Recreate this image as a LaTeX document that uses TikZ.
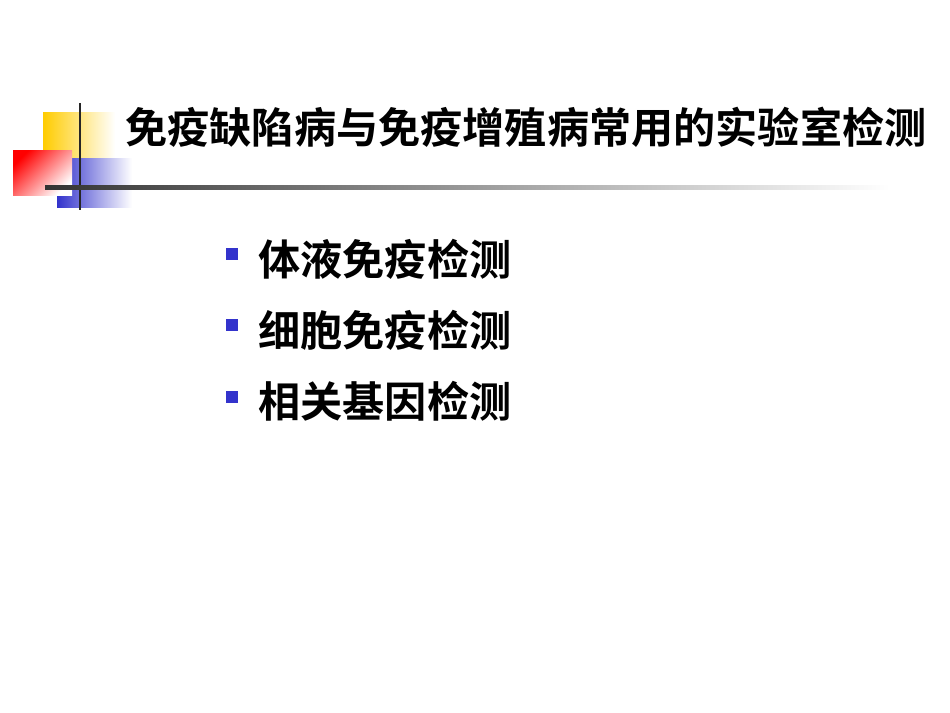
\documentclass[tikz,border=0pt]{standalone}
\usepackage{fontspec}
\newfontfamily\cjk{Noto Sans CJK SC Bold}
\definecolor{yel}{RGB}{255,204,0}
\definecolor{blu}{RGB}{51,51,204}
\begin{document}
\begin{tikzpicture}[x=0.02cm,y=-0.02cm,
  txt/.style={font=\cjk\fontsize{24}{28}\selectfont,anchor=west,inner sep=0},
  bul/.style={fill=blu,minimum size=0.24cm,inner sep=0}]
\useasboundingbox (0,0) rectangle (950,713);
\fill[left color=yel,middle color=yel!85!white,right color=white] (43,113) rectangle (115,158);
\fill[left color=blu,middle color=blu!80!white,right color=white] (57,158) rectangle (132,207);
\shade[top color=red,bottom color=white,shading angle=45] (13,150) rectangle (72,195);
\draw[line width=1.2pt,black!85] (80,103) -- (80,210);
\shade[left color=black!80,right color=white] (45,185.5) rectangle (890,189);
\node[txt] (title) at (125,127) {免疫缺陷病与免疫增殖病常用的实验室检测};
\node[bul] (b1) at (232,254) {};
\node[bul] (b2) at (232,325) {};
\node[bul] (b3) at (232,397) {};
\node[txt] (t1) at (258,259) {体液免疫检测};
\node[txt] (t2) at (258,330) {细胞免疫检测};
\node[txt] (t3) at (258,401) {相关基因检测};
\end{tikzpicture}
\end{document}
